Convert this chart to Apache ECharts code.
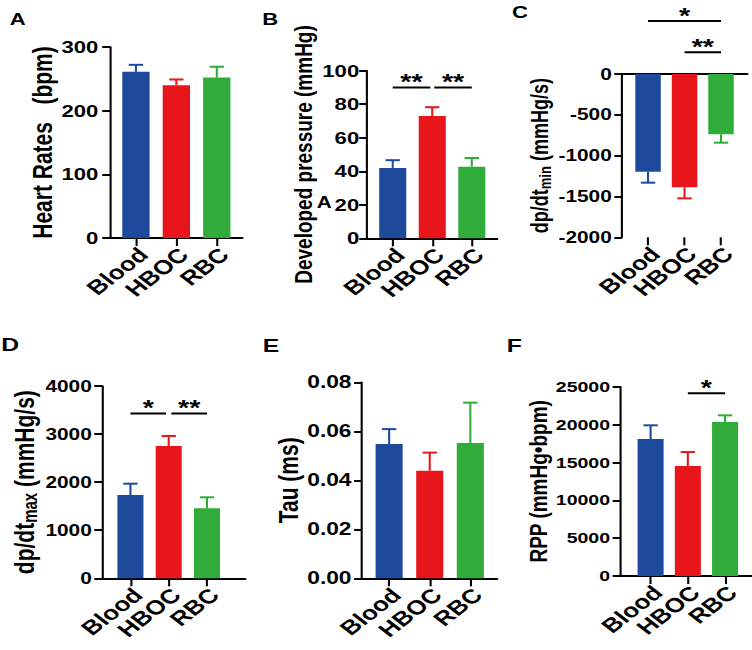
<!DOCTYPE html>
<html><head><meta charset="utf-8">
<script src="https://cdn.jsdelivr.net/npm/echarts@6/dist/echarts.min.js"></script>
<style>
html,body{margin:0;padding:0;background:#fff;overflow:hidden;}
#wrap{width:752px;height:650px;overflow:hidden;}
#chart{width:578px;height:650px;transform:scaleX(1.301);transform-origin:0 0;}
</style></head><body><div id="wrap"><div id="chart"></div></div>
<script>
// ---------- data ----------
const categories = ['Blood', 'HBOC', 'RBC'];
const heartRate = [261, 240, 252];
const heartRateSD = [11, 9, 17];
const devPressure = [42, 73, 42.7];
const devPressureSD = [4.6, 5.2, 5.2];
const dpdtMin = [-1196, -1388, -739];
const dpdtMinSD = [135, 135, 102];
const dpdtMax = [1733, 2752, 1456];
const dpdtMaxSD = [235, 208, 229];
const tau = [0.0548, 0.0439, 0.0552];
const tauSD = [0.0061, 0.0074, 0.0165];
const rpp = [18090, 14530, 20340];
const rppSD = [1810, 1850, 880];
// significance brackets: [from, to, height, label]
const sigB = [[0, 0.95, 90, '**'], [1.05, 2, 90, '**']];
const sigC = [[0, 2, 650, '*'], [1, 2, 265, '**']];
const sigD = [[0, 0.93, 3430, '*'], [1.07, 2, 3430, '**']];
const sigF = [[1, 2, 24130, '*']];

// ---------- style / layout ----------
const barColors = ['#1e4a9b', '#e8151b', '#2fac3a'];
const FONT = '"Liberation Sans", Arial, sans-serif';
const panels = [
  {letter:'A', lx:7.5, ly:10, lsize:17, values:heartRate, sd:heartRateSD, sig:[], name:'Heart Rates   (bpm)', nameSize:21, nameGap:40,
   yMin:0, yMax:300, yInterval:100, dec:0, tickSize:17, labelMargin:9,
   left:84.6, top:47, width:101.6, height:191, xMin:-0.64, xMax:2.63, barWidth:21},
  {letter:'B', lx:201.5, ly:10, lsize:17, values:devPressure, sd:devPressureSD, sig:sigB, name:'Developed pressure (mmHg)', nameSize:19, nameGap:39,
   yMin:0, yMax:100, yInterval:20, dec:0, tickSize:17, labelMargin:6,
   left:282.1, top:70.7, width:100, height:167.6, xMin:-0.65, xMax:2.64, barWidth:20.8},
  {letter:'C', lx:393.5, ly:3, lsize:17, values:dpdtMin, sd:dpdtMinSD, sig:sigC, name:'{m|dp/dt}{s|min}{m| (mmHg/s)}', rich:true, nameSize:18, nameGap:48,
   yMin:-2000, yMax:0, yInterval:500, dec:0, tickSize:16, labelMargin:8,
   left:478.2, top:74, width:96.2, height:163.3, xMin:-0.71, xMax:2.72, barWidth:19.6, topLine:true},
  {letter:'D', lx:1, ly:335, lsize:19, values:dpdtMax, sd:dpdtMaxSD, sig:sigD, name:'{m|dp/dt}{s|max}{m| (mmHg/s)}', rich:true, nameSize:21, nameGap:48,
   yMin:0, yMax:4000, yInterval:1000, dec:0, tickSize:16, labelMargin:8,
   left:78.5, top:386, width:110, height:192.3, xMin:-0.74, xMax:3.0, barWidth:20},
  {letter:'E', lx:202, ly:336, lsize:19, values:tau, sd:tauSD, sig:[], name:'Tau (ms)', nameSize:21, nameGap:45,
   yMin:0, yMax:0.08, yInterval:0.02, dec:2, tickSize:17.5, labelMargin:8,
   left:278.2, top:382.3, width:103.9, height:196, xMin:-0.67, xMax:2.66, barWidth:20.8},
  {letter:'F', lx:389.5, ly:336, lsize:19, values:rpp, sd:rppSD, sig:sigF, name:'RPP (mmHg•bpm)', nameSize:19, nameGap:51,
   yMin:0, yMax:25000, yInterval:5000, dec:0, tickSize:15, labelMargin:8,
   left:476.9, top:386.7, width:101.3, height:189.3, xMin:-0.81, xMax:2.73, barWidth:20}
];

const chart = echarts.init(document.getElementById('chart'), null, {renderer:'svg'});
const grid = [], xAxis = [], yAxis = [], series = [], title = [];
const catIdx = categories.map((c, i) => i);

panels.forEach((p, gi) => {
  grid.push({left:p.left, top:p.top, width:p.width, height:p.height, outerBoundsMode:'none', containLabel:false});
  const xi = xAxis.length;
  xAxis.push({
    gridIndex:gi, type:'value', min:p.xMin, max:p.xMax, position:'bottom',
    axisLine:{show:!p.topLine, onZero:false, lineStyle:{color:'#000', width:2}},
    axisTick:{show:true, customValues:catIdx, length:8, lineStyle:{color:'#000', width:1.6}},
    axisLabel:{show:true, customValues:catIdx, rotate:45, margin:19, padding:[0,-8,0,0], hideOverlap:false,
      showMinLabel:true, showMaxLabel:true, formatter:v => categories[Math.round(v)],
      fontSize:20, fontWeight:'bold', color:'#000', fontFamily:FONT},
    splitLine:{show:false}
  });
  if (p.topLine) {
    xAxis.push({
      gridIndex:gi, type:'value', min:p.xMin, max:p.xMax, position:'top',
      axisLine:{show:true, onZero:false, lineStyle:{color:'#000', width:2}},
      axisTick:{show:false}, axisLabel:{show:false}, splitLine:{show:false}
    });
  }
  const nameStyle = {fontSize:p.nameSize, fontWeight:'bold', color:'#000', fontFamily:FONT};
  if (p.rich) {
    nameStyle.rich = {
      m:{fontSize:p.nameSize, fontWeight:'bold', color:'#000', fontFamily:FONT},
      s:{fontSize:Math.round(p.nameSize*0.72), fontWeight:'bold', color:'#000', fontFamily:FONT, padding:[9,0,0,0]}
    };
  }
  yAxis.push({
    gridIndex:gi, type:'value', min:p.yMin, max:p.yMax, interval:p.yInterval,
    name:p.name, nameLocation:'middle', nameGap:p.nameGap, nameTextStyle:nameStyle,
    axisLine:{show:true, onZero:false, lineStyle:{color:'#000', width:1.6}},
    axisTick:{show:true, length:6, lineStyle:{color:'#000', width:2}},
    axisLabel:{fontSize:p.tickSize, fontWeight:'bold', color:'#000', fontFamily:FONT, margin:p.labelMargin,
      hideOverlap:false, formatter:v => p.dec ? v.toFixed(p.dec) : String(v)},
    splitLine:{show:false}
  });
  series.push({
    type:'bar', xAxisIndex:xi, yAxisIndex:gi, barWidth:p.barWidth, animation:false,
    data:p.values.map((v, i) => ({value:[i, v], itemStyle:{color:barColors[i]}}))
  });
  series.push({
    type:'custom', xAxisIndex:xi, yAxisIndex:gi, animation:false, clip:false, z:5,
    encode:{x:0, y:1},
    data:p.values.map((v, i) => [i, v, p.sd[i]]),
    renderItem:(params, api) => {
      const x = api.value(0), v = api.value(1), e = api.value(2);
      const dir = v < 0 ? -1 : 1;
      const a = api.coord([x, v]), b = api.coord([x, v + dir * e]);
      const c = barColors[params.dataIndex];
      const half = 5.5;
      return {type:'group', children:[
        {type:'line', shape:{x1:a[0], y1:a[1], x2:b[0], y2:b[1]}, style:{stroke:c, lineWidth:1.6}},
        {type:'line', shape:{x1:b[0]-half, y1:b[1], x2:b[0]+half, y2:b[1]}, style:{stroke:c, lineWidth:2}}
      ]};
    }
  });
  if (p.sig.length) {
    series.push({
      type:'custom', xAxisIndex:xi, yAxisIndex:gi, animation:false, clip:false, z:6,
      encode:{x:[0, 1], y:2},
      data:p.sig.map(s => [s[0], s[1], s[2]]),
      renderItem:(params, api) => {
        const a = api.coord([api.value(0), api.value(2)]);
        const b = api.coord([api.value(1), api.value(2)]);
        return {type:'group', children:[
          {type:'line', shape:{x1:a[0], y1:a[1], x2:b[0], y2:b[1]}, style:{stroke:'#000', lineWidth:2}},
          {type:'text', x:(a[0]+b[0])/2, y:a[1]-6, style:{text:p.sig[params.dataIndex][3], fill:'#000',
            font:'bold 22px ' + FONT, align:'center', verticalAlign:'middle'}}
        ]};
      }
    });
  }
  title.push({text:p.letter, left:p.lx, top:p.ly, padding:0,
    textStyle:{fontSize:p.lsize, fontWeight:'bold', color:'#000', fontFamily:FONT}});
});
// stray letter present in the original figure (panel B, beside the 20 tick)
title.push({text:'A', left:243.5, top:194, padding:0, textStyle:{fontSize:16, fontWeight:'bold', color:'#000', fontFamily:FONT}});

chart.setOption({animation:false, backgroundColor:'#fff', title, grid, xAxis, yAxis, series});
</script></body></html>
